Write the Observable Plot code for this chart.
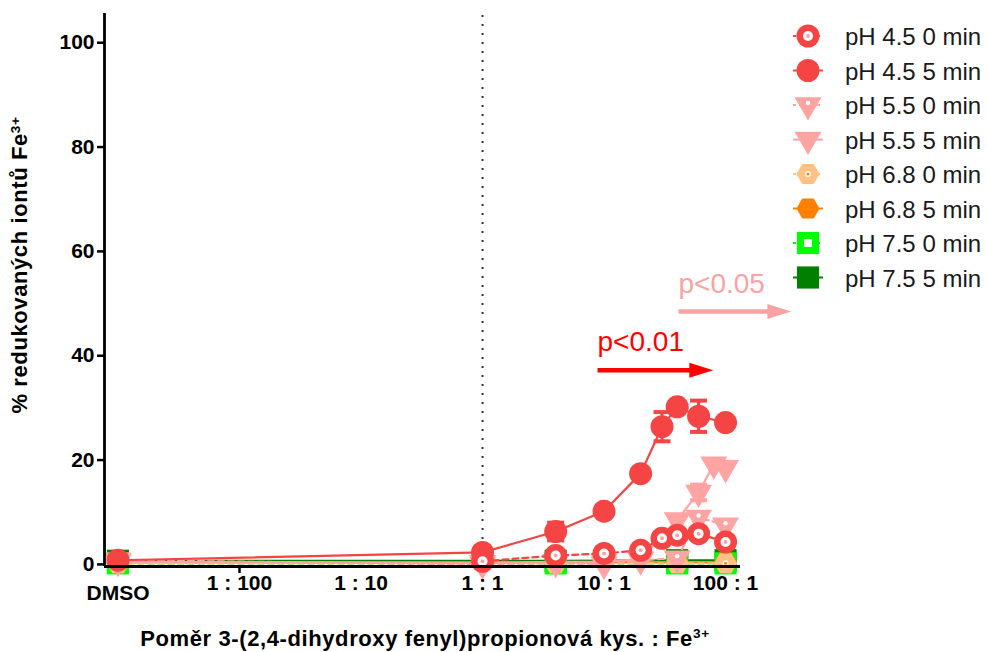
<!DOCTYPE html>
<html><head><meta charset="utf-8">
<script src="https://cdn.jsdelivr.net/npm/d3@7"></script>
<script src="https://cdn.jsdelivr.net/npm/@observablehq/plot@0.6"></script>
<style>
body{margin:0;background:#fff;}
#wrap{position:relative;width:987px;height:652px;overflow:hidden;}
#wrap svg{position:absolute;left:0;top:0;}
</style></head><body><div id="wrap"></div>
<script>
// ---------- data ----------
const xTickValues = [0.001, 0.01, 0.1, 1, 10, 100];      // 0.001 = DMSO position
const xTickLabels = ["DMSO", "1 : 100", "1 : 10", "1 : 1", "10 : 1", "100 : 1"];
const xMinorTicks = [0.01];
const yTicks = [0, 20, 40, 60, 80, 100];

const seriesNames = ["pH 4.5 0 min","pH 4.5 5 min","pH 5.5 0 min","pH 5.5 5 min",
                     "pH 6.8 0 min","pH 6.8 5 min","pH 7.5 0 min","pH 7.5 5 min"];

const x45_0 = [1, 4, 10, 20, 30, 40, 60, 100];
const y45_0 = [0.6, 1.7, 2.1, 2.7, 5.0, 5.6, 5.9, 4.3];
const x45_5 = [0.001, 1, 4, 10, 20, 30, 40, 60, 100];
const y45_5 = [0.8, 2.3, 6.3, 10.2, 17.4, 26.4, 30.2, 28.4, 27.2];
const e45_5 = [0, 0, 1.7, 0, 0, 2.8, 0, 3.0, 0];

const x55_0 = [0.001, 1, 4, 10, 20, 40, 60, 100];
const y55_0 = [0.8, 0.0, 0.3, 0.0, 0.8, 1.2, 9.0, 7.5];
const x55_5 = [0.001, 1, 4, 10, 20, 40, 60, 80, 100];
const y55_5 = [0.5, 0.3, 0.5, 0.5, 1.0, 8.5, 13.8, 19.2, 18.5];
const e55_5 = [0, 0, 0, 0, 0, 0, 1.5, 0, 0];

const x68 = [0.001, 4, 40, 100];
const y68_0 = [0.2, 0.2, 0.2, 0.2];
const y68_5 = [0.4, 0.4, 0.4, 0.4];
const x75 = [0.001, 4, 40, 100];
const y75_0 = [0.2, 0.2, 0.2, 0.2];
const y75_5 = [0.7, 0.7, 0.8, 0.8];

const annotations = [
  {label: "p<0.01", tx: 8.84, ty: 41.0, x1: 8.84, x2: 62, y: 37.2, color: "#ff0000"},
  {label: "p<0.05", tx: 41.0, ty: 52.1, x1: 41.0, x2: 272, y: 48.5, color: "#f8a3a3"}
];

// ---------- styles ----------
const RED = "#f44444", PINK = "#ffa3a3", PEACH = "#ffc184", ORANGE = "#ff8000",
      LIME = "#00ff00", DKGREEN = "#007f00";

const series = [
  {name: seriesNames[0], x: x45_0, y: y45_0, color: RED, sym: "circle", open: true, dash: "6,4"},
  {name: seriesNames[1], x: x45_5, y: y45_5, e: e45_5, color: RED, sym: "circle", open: false},
  {name: seriesNames[2], x: x55_0, y: y55_0, color: PINK, sym: "triangle", open: true, dash: "6,4"},
  {name: seriesNames[3], x: x55_5, y: y55_5, e: e55_5, color: PINK, sym: "triangle", open: false},
  {name: seriesNames[4], x: x68, y: y68_0, color: PEACH, sym: "hexagon", open: true, dash: "6,4"},
  {name: seriesNames[5], x: x68, y: y68_5, color: ORANGE, sym: "hexagon", open: false},
  {name: seriesNames[6], x: x75, y: y75_0, color: LIME, sym: "square", open: true, dash: "6,4"},
  {name: seriesNames[7], x: x75, y: y75_5, color: DKGREEN, sym: "square", open: false}
];

const symR = {circle: 11.5, triangle: 10, hexagon: 10, square: 12.5};
const symRot = {circle: 0, triangle: 180, hexagon: 90, square: 0};

const capSymbol = {draw(ctx) { ctx.moveTo(-8.5, 0); ctx.lineTo(8.5, 0); }};
const headSymbol = {draw(ctx) { ctx.moveTo(13, 0); ctx.lineTo(-11, -7.5); ctx.lineTo(-11, 7.5); ctx.closePath(); }};

const yDomain = [-0.4, 105.6];
const xDomain = [Math.pow(10, -3.111), Math.pow(10, 2.123)];

// ---------- marks ----------
const marks = [];
marks.push(Plot.ruleX([1], {y1: yDomain[0], y2: 105.2, stroke: "#333", strokeWidth: 2, strokeDasharray: "2,7"}));

const drawOrder = [7, 6, 5, 4, 3, 2, 1, 0];
for (const i of drawOrder) {
  const s = series[i];
  const rows = s.x.map((x, k) => ({x, y: s.y[k], e: s.e ? s.e[k] : 0}));
  marks.push(Plot.line(rows, {x: "x", y: "y", stroke: s.color, strokeWidth: 2.2, strokeDasharray: s.dash || null}));
  const err = rows.filter(d => d.e > 0);
  if (err.length) {
    marks.push(Plot.ruleX(err, {x: "x", y1: d => d.y - d.e, y2: d => d.y + d.e, stroke: s.color, strokeWidth: 3}));
    marks.push(Plot.dot(err, {x: "x", y: d => d.y - d.e, symbol: capSymbol, stroke: s.color, strokeWidth: 4, fill: "none"}));
    marks.push(Plot.dot(err, {x: "x", y: d => d.y + d.e, symbol: capSymbol, stroke: s.color, strokeWidth: 4, fill: "none"}));
  }
  marks.push(Plot.dot(rows, {x: "x", y: "y", symbol: s.sym, r: symR[s.sym], rotate: symRot[s.sym], fill: s.color, stroke: "none"}));
  if (s.open) {
    if (s.sym === "circle") {
      marks.push(Plot.dot(rows, {x: "x", y: "y", r: 5, fill: "white"}));
      marks.push(Plot.dot(rows, {x: "x", y: "y", r: 2, fill: "#f9a3a3"}));
    } else if (s.sym === "square") {
      marks.push(Plot.dot(rows, {x: "x", y: "y", symbol: "square", r: 4.5, fill: "white"}));
    } else if (s.sym === "hexagon") {
      marks.push(Plot.dot(rows, {x: "x", y: "y", r: 3, fill: "white"}));
      marks.push(Plot.dot(rows, {x: "x", y: "y", r: 1.5, fill: ORANGE}));
    } else {
      marks.push(Plot.dot(rows, {x: "x", y: "y", r: 2.2, fill: "white", dy: -2}));
    }
  }
}

// axes
marks.push(Plot.ruleX([xDomain[0]], {y1: yDomain[0], y2: yDomain[1], stroke: "black", strokeWidth: 2.8}));
marks.push(Plot.ruleY([yDomain[0]], {x1: xDomain[0], x2: xDomain[1], stroke: "black", strokeWidth: 2.8}));
marks.push(Plot.axisY({ticks: yTicks, tickSize: 7, tickPadding: 3, strokeWidth: 2.5, fontSize: 21, fontWeight: "bold", label: null, color: "black"}));
marks.push(Plot.axisX({ticks: xMinorTicks, tickSize: 7, strokeWidth: 2.5, tickFormat: () => "", label: null}));
const xtRows = xTickValues.map((v, i) => ({v, label: xTickLabels[i]}));
marks.push(Plot.text(xtRows.filter(d => d.label !== "DMSO"), {x: "v", frameAnchor: "bottom", text: "label", dy: 23, fontSize: 21, fontWeight: "bold", fill: "black"}));
marks.push(Plot.text(xtRows.filter(d => d.label === "DMSO"), {x: "v", frameAnchor: "bottom", text: "label", dy: 33, fontSize: 21, fontWeight: "bold", fill: "black"}));

// annotations
marks.push(Plot.link(annotations, {x1: "x1", x2: "x2", y1: "y", y2: "y", stroke: "color", strokeWidth: 4.5}));
marks.push(Plot.dot(annotations, {x: "x2", y: "y", symbol: headSymbol, fill: "color", stroke: "none"}));
marks.push(Plot.text(annotations, {x: "tx", y: "ty", text: "label", fill: "color", fontSize: 28, fontWeight: "normal", textAnchor: "start", lineAnchor: "bottom"}));

const plot = Plot.plot({
  width: 987, height: 652,
  marginLeft: 104, marginRight: 247, marginTop: 13, marginBottom: 86,
  x: {type: "log", domain: xDomain},
  y: {domain: yDomain},
  style: {fontFamily: "'Liberation Sans', Arial, sans-serif", background: "white", overflow: "visible", color: "black"},
  marks
});
document.getElementById("wrap").appendChild(plot);

// axis titles (with superscripts)
const svg = d3.select(plot);
const xs = plot.scale("x");
const frameCx = (xs.range[0] + xs.range[1]) / 2;
const xt = svg.append("text").attr("x", frameCx + 3).attr("y", 646).attr("text-anchor", "middle")
  .attr("font-size", 22).attr("font-weight", "bold").attr("fill", "black").attr("letter-spacing", "0.6px")
  .attr("font-family", "'Liberation Sans', Arial, sans-serif");
xt.append("tspan").text("Poměr 3-(2,4-dihydroxy fenyl)propionová kys. : Fe");
xt.append("tspan").attr("dy", "-0.55em").attr("font-size", "0.62em").text("3+");

const yt = svg.append("text").attr("transform", "translate(27,265) rotate(-90)").attr("text-anchor", "middle")
  .attr("font-size", 22).attr("font-weight", "bold").attr("fill", "black").attr("letter-spacing", "0.6px")
  .attr("font-family", "'Liberation Sans', Arial, sans-serif");
yt.append("tspan").text("% redukovaných iontů Fe");
yt.append("tspan").attr("dy", "-0.55em").attr("font-size", "0.62em").text("3+");

// ---------- legend ----------
const hexagonSym = {draw(ctx, size) {
  const rx = Math.sqrt(size / Math.PI), ry = rx * Math.sqrt(4 / 3), hy = ry / 2;
  ctx.moveTo(0, ry); ctx.lineTo(rx, hy); ctx.lineTo(rx, -hy); ctx.lineTo(0, -ry);
  ctx.lineTo(-rx, -hy); ctx.lineTo(-rx, hy); ctx.closePath();
}};
const d3sym = {circle: d3.symbolCircle, triangle: d3.symbolTriangle, hexagon: hexagonSym, square: d3.symbolSquare};
const leg = d3.select("#wrap").append("svg").attr("width", 987).attr("height", 652).style("pointer-events", "none");
series.forEach((s, i) => {
  const cy = 36 + i * 34.5;
  const g = leg.append("g").attr("transform", `translate(808,${cy})`);
  g.append("line").attr("x1", -15).attr("x2", 15).attr("stroke", s.color).attr("stroke-width", 2)
    .attr("stroke-dasharray", s.open ? "3,3" : null);
  const r = symR[s.sym];
  g.append("path").attr("d", d3.symbol(d3sym[s.sym], Math.PI * r * r)())
    .attr("transform", `rotate(${symRot[s.sym]})`).attr("fill", s.color);
  if (s.open) {
    if (s.sym === "circle") {
      g.append("circle").attr("r", 5).attr("fill", "white");
      g.append("circle").attr("r", 2).attr("fill", "#f9a3a3");
    } else if (s.sym === "square") {
      g.append("path").attr("d", d3.symbol(d3.symbolSquare, Math.PI * 4.5 * 4.5)()).attr("fill", "white");
    } else if (s.sym === "hexagon") {
      g.append("circle").attr("r", 3).attr("fill", "white");
      g.append("circle").attr("r", 1.5).attr("fill", ORANGE);
    } else {
      g.append("circle").attr("r", 2.2).attr("cy", -2).attr("fill", "white");
    }
  }
  leg.append("text").attr("x", 845).attr("y", cy + 9).attr("font-size", 24)
    .attr("font-family", "'Liberation Sans', Arial, sans-serif").attr("fill", "#1a1a1a").text(s.name);
});
</script></body></html>
